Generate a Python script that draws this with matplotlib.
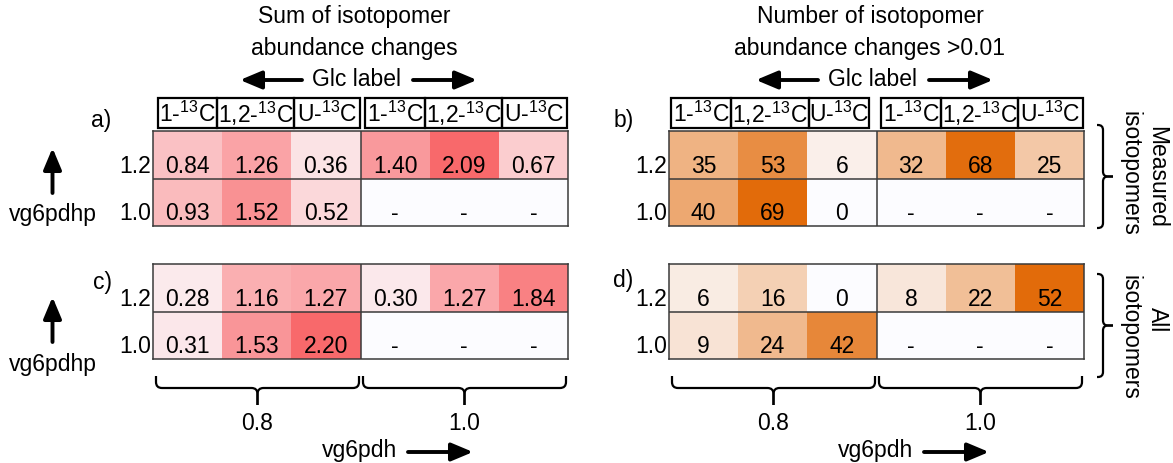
import numpy as np
import matplotlib.pyplot as plt
from matplotlib.colors import LinearSegmentedColormap, Normalize
from matplotlib.patches import FancyArrowPatch, PathPatch, Rectangle
from matplotlib.path import Path

W, H = 1173, 463

plt.rcParams.update(
    {
        "font.family": ["Liberation Sans", "DejaVu Sans"],
        "font.size": 16.5,
        "mathtext.fontset": "custom",
        "mathtext.rm": "Liberation Sans",
    }
)

# data (rows: vg6pdhp 1.2, 1.0; columns: vg6pdh 0.8 x 3 labels, vg6pdh 1.0 x 3 labels)
glc_labels = [r"1-$^{\mathregular{13}}$C", r"1,2-$^{\mathregular{13}}$C", r"U-$^{\mathregular{13}}$C"]
vg6pdh_levels = ["0.8", "1.0"]
vg6pdhp_levels = ["1.2", "1.0"]

sum_measured = [[0.84, 1.26, 0.36, 1.40, 2.09, 0.67],
                [0.93, 1.52, 0.52, None, None, None]]
sum_all = [[0.28, 1.16, 1.27, 0.30, 1.27, 1.84],
           [0.31, 1.53, 2.20, None, None, None]]
count_measured = [[35, 53, 6, 32, 68, 25],
                  [40, 69, 0, None, None, None]]
count_all = [[6, 16, 0, 8, 22, 52],
             [9, 24, 42, None, None, None]]

RED = LinearSegmentedColormap.from_list("xl_red", ["#FCFCFF", "#F8696B"])
ORANGE = LinearSegmentedColormap.from_list("xl_orange", ["#FCFCFF", "#E26B0A"])
for cm in (RED, ORANGE):
    cm.set_bad("#FCFCFF")

EDGE = "#3a3a3a"
HM_W, HM_H = 415, 95


def arrow(ax, x1, y1, x2, y2):
    ax.add_patch(
        FancyArrowPatch(
            (x1, y1), (x2, y2),
            arrowstyle="-|>,head_length=1.0,head_width=0.42",
            mutation_scale=13, linewidth=2.8, color="black",
            shrinkA=0, shrinkB=0,
        )
    )


def brace_down(ax, x0, x1, ytop, ybar, ytip, rc=6):
    xc = (x0 + x1) / 2
    for a, s in ((x0, 1), (x1, -1)):
        verts = [(a, ytop), (a, ybar - rc), (a, ybar), (a + s * rc, ybar),
                 (xc - s * rc, ybar), (xc, ybar), (xc, ybar + rc), (xc, ytip)]
        codes = [Path.MOVETO, Path.LINETO, Path.CURVE3, Path.CURVE3,
                 Path.LINETO, Path.CURVE3, Path.CURVE3, Path.LINETO]
        ax.add_patch(PathPatch(Path(verts, codes), fill=False, lw=1.6, ec="black"))


def brace_right(ax, y0, y1, xend, xbar, xtip, rc=5):
    yc = (y0 + y1) / 2
    for a, s in ((y0, 1), (y1, -1)):
        verts = [(xend, a), (xbar - rc, a), (xbar, a), (xbar, a + s * rc),
                 (xbar, yc - s * rc), (xbar, yc), (xbar + rc, yc), (xtip, yc)]
        codes = [Path.MOVETO, Path.LINETO, Path.CURVE3, Path.CURVE3,
                 Path.LINETO, Path.CURVE3, Path.CURVE3, Path.LINETO]
        ax.add_patch(PathPatch(Path(verts, codes), fill=False, lw=1.6, ec="black"))


def heatmap(fig, x0, top, values, cmap, fmt):
    data = np.array(values, dtype=float)
    ax = fig.add_axes([x0 / W, 1 - (top + HM_H) / H, HM_W / W, HM_H / H])
    norm = Normalize(vmin=0, vmax=np.nanmax(data))
    ax.pcolormesh(np.arange(data.shape[1] + 1), np.arange(data.shape[0] + 1),
                  np.ma.masked_invalid(data), cmap=cmap, norm=norm)
    ax.set_xlim(0, data.shape[1])
    ax.set_ylim(data.shape[0], 0)
    ax.set_xticks([])
    ax.set_yticks([])
    for sp in ax.spines.values():
        sp.set_color(EDGE)
        sp.set_linewidth(1.1)
    ax.axhline(1, color=EDGE, lw=1.1)
    ax.axvline(3, color=EDGE, lw=1.1)
    for i in range(data.shape[0]):
        for j in range(data.shape[1]):
            v = data[i, j]
            label = "-" if np.isnan(v) else fmt.format(v)
            ax.text(j + 0.5, i + 0.88, label, ha="center", va="baseline")
        ax.text(-0.004, i + 0.88, vg6pdhp_levels[i], ha="right", va="baseline",
                transform=ax.get_yaxis_transform())
    return ax


fig = plt.figure(figsize=(W / 100, H / 100), dpi=100)
ov = fig.add_axes([0, 0, 1, 1])
ov.set_xlim(0, W)
ov.set_ylim(H, 0)
ov.axis("off")

panels = [
    # x0, title lines, header box edges (px from x0)
    (153, ["Sum of isotopomer", "abundance changes"], [5, 64, 141, 207, 212, 272, 349, 414]),
    (669, ["Number of isotopomer", "abundance changes >0.01"], [2, 62, 140, 200, 212, 272, 349, 414]),
]
for x0, title, edges in panels:
    cx = x0 + 201
    ov.text(cx, 17, title[0], ha="center", va="center")
    ov.text(cx, 48, title[1], ha="center", va="center")
    ov.text(x0 + 204, 79, "Glc label", ha="center", va="center")
    arrow(ov, x0 + 149, 80, x0 + 87, 80)
    arrow(ov, x0 + 260, 80, x0 + 324, 80)
    for g in range(2):
        for k in range(3):
            a, b = edges[g * 4 + k], edges[g * 4 + k + 1]
            ov.add_patch(Rectangle((x0 + a, 98), b - a, 30, fill=False, lw=1.6, ec="black"))
            ov.text(x0 + (a + b) / 2, 114, glc_labels[k], ha="center", va="center")
    # lower braces and vg6pdh axis
    for g in range(2):
        bx0 = x0 + 3 + g * 207
        brace_down(ov, bx0, bx0 + 203, 376, 388, 405)
        ov.text(bx0 + 101.5, 423, vg6pdh_levels[g], ha="center", va="center")
    ov.text(x0 + 207, 450, "vg6pdh", ha="center", va="center")
    arrow(ov, x0 + 255, 452, x0 + 320, 452)

heatmap(fig, 153, 131, sum_measured, RED, "{:.2f}")
heatmap(fig, 669, 131, count_measured, ORANGE, "{:.0f}")
heatmap(fig, 153, 264, sum_all, RED, "{:.2f}")
heatmap(fig, 669, 264, count_all, ORANGE, "{:.0f}")

for lab, x, y in (("a)", 101, 120), ("b)", 624, 120), ("c)", 102, 282), ("d)", 623, 280)):
    ov.text(x, y, lab, ha="center", va="center")

for ytip, ytext in ((148, 215), (297, 364)):
    arrow(ov, 52.5, ytip + 45, 52.5, ytip)
    ov.text(52.5, ytext, "vg6pdhp", ha="center", va="center")

brace_right(ov, 125, 228, 1097, 1103, 1113)
brace_right(ov, 274, 377, 1097, 1103, 1113)
ov.text(1157, 177, "Measured", rotation=270, ha="center", va="center")
ov.text(1130, 173, "isotopomers", rotation=270, ha="center", va="center")
ov.text(1157, 320, "All", rotation=270, ha="center", va="center")
ov.text(1130, 337, "isotopomers", rotation=270, ha="center", va="center")

fig.savefig("out.png", dpi=100, facecolor="white")
